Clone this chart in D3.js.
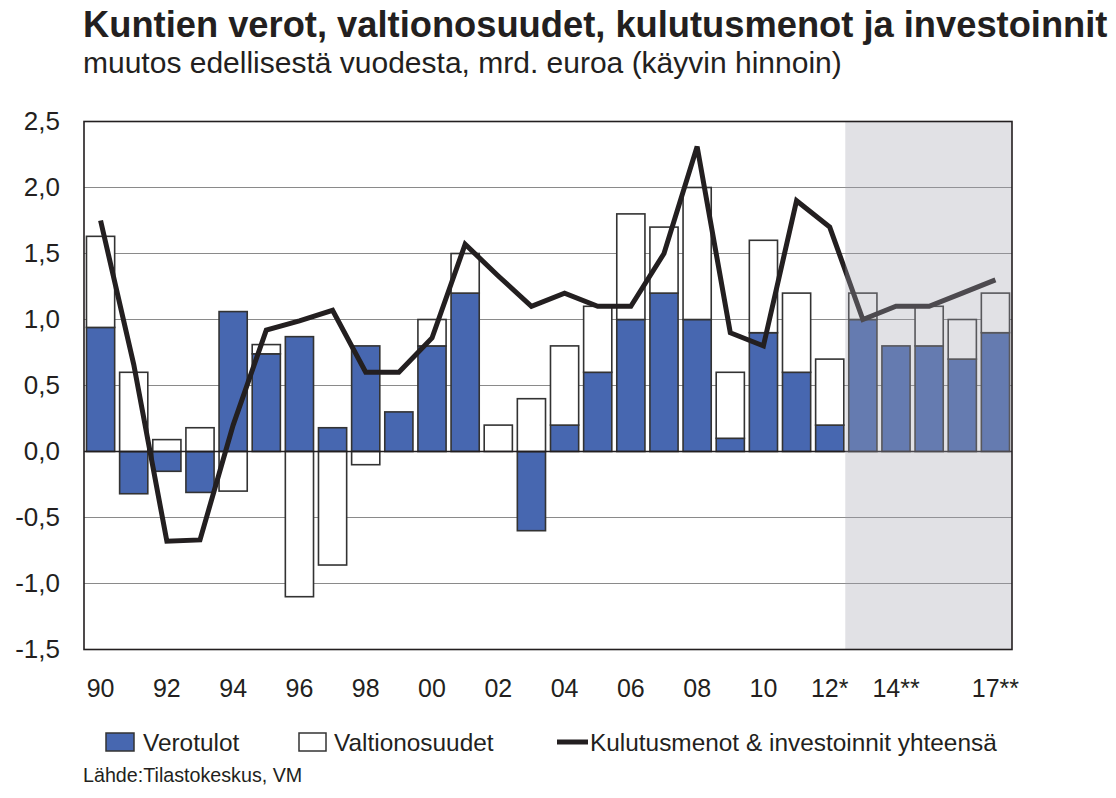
<!DOCTYPE html>
<html>
<head>
<meta charset="utf-8">
<script src="https://cdn.jsdelivr.net/npm/d3@7"></script>
<style>
  html, body { margin: 0; padding: 0; background: #ffffff; }
  svg { display: block; font-family: "Liberation Sans", Arial, sans-serif; }
</style>
</head>
<body>
<svg id="chart" width="1116" height="798"></svg>
<script>
// ---- data ----
const years = [1990,1991,1992,1993,1994,1995,1996,1997,1998,1999,2000,2001,2002,2003,2004,2005,2006,2007,2008,2009,2010,2011,2012,2013,2014,2015,2016,2017];
const verotulot = [0.94,-0.32,-0.15,-0.31,1.06,0.74,0.87,0.18,0.80,0.30,0.80,1.20,0.00,-0.60,0.20,0.60,1.00,1.20,1.00,0.10,0.90,0.60,0.20,1.00,0.80,0.80,0.70,0.90];
const valtionosuudet = [0.69,0.60,0.09,0.18,-0.30,0.07,-1.10,-0.86,-0.10,0.00,0.20,0.30,0.20,0.40,0.60,0.50,0.80,0.50,1.00,0.50,0.70,0.60,0.50,0.20,0.00,0.30,0.30,0.30];
const kulutusmenot = [1.75,0.66,-0.68,-0.67,0.20,0.92,0.99,1.07,0.60,0.60,0.86,1.57,1.33,1.10,1.20,1.10,1.10,1.50,2.31,0.90,0.80,1.90,1.70,1.00,1.10,1.10,1.20,1.30];
const forecastStart = 2013;
const xTickYears = [1990,1992,1994,1996,1998,2000,2002,2004,2006,2008,2010,2012,2014,2017];
const xTickLabels = ["90","92","94","96","98","00","02","04","06","08","10","12*","14**","17**"];
const yTicks = [2.5,2.0,1.5,1.0,0.5,0.0,-0.5,-1.0,-1.5];
const seriesNames = ["Verotulot","Valtionosuudet","Kulutusmenot & investoinnit yhteensä"];
const titleText = "Kuntien verot, valtionosuudet, kulutusmenot ja investoinnit";
const subtitleText = "muutos edellisestä vuodesta, mrd. euroa (käyvin hinnoin)";
const sourceText = "Lähde:Tilastokeskus, VM";

// ---- layout ----
const svg = d3.select("#chart");
const plot = {left: 84, right: 1012, top: 121.5, bottom: 649.5};
const colBlue = "#4767b0";
const colDark = "#231f20";

const x = d3.scaleBand().domain(years).range([plot.left, plot.right]).paddingInner(0.15).paddingOuter(0.075);
const y = d3.scaleLinear().domain([-1.5, 2.5]).range([plot.bottom, plot.top]);

// title
svg.append("text").attr("x", 83).attr("y", 37).attr("font-size", 36.3).attr("font-weight", "bold")
  .attr("fill", colDark).text(titleText);
svg.append("text").attr("x", 83).attr("y", 73).attr("font-size", 30).attr("fill", colDark).text(subtitleText);

// gridlines
svg.append("g").selectAll("line").data(yTicks.filter(v => v !== 0 && v !== 2.5 && v !== -1.5)).join("line")
  .attr("x1", plot.left).attr("x2", plot.right)
  .attr("y1", d => y(d)).attr("y2", d => y(d))
  .attr("stroke", "#8a8a8a").attr("stroke-width", 1.2);

// stacked bars
const table = years.map((yr, i) => ({year: yr, Verotulot: verotulot[i], Valtionosuudet: valtionosuudet[i]}));
const stack = d3.stack().keys(["Verotulot","Valtionosuudet"]).offset(d3.stackOffsetDiverging);
const stacked = stack(table);
const fills = {Verotulot: colBlue, Valtionosuudet: "#ffffff"};

const barsG = svg.append("g");
stacked.forEach(s => {
  barsG.append("g").selectAll("rect").data(s.filter(d => d[1] !== d[0])).join("rect")
    .attr("x", d => x(d.data.year))
    .attr("width", x.bandwidth())
    .attr("y", d => y(Math.max(d[0], d[1])))
    .attr("height", d => Math.abs(y(d[0]) - y(d[1])))
    .attr("fill", fills[s.key])
    .attr("stroke", "#333333")
    .attr("stroke-width", 1.6);
});

// zero line
svg.append("line").attr("x1", plot.left).attr("x2", plot.right)
  .attr("y1", y(0)).attr("y2", y(0)).attr("stroke", colDark).attr("stroke-width", 1.6);

// line series
const line = d3.line().x((d, i) => x(years[i]) + x.bandwidth() / 2).y(d => y(d));
svg.append("path").datum(kulutusmenot).attr("d", line)
  .attr("fill", "none").attr("stroke", colDark).attr("stroke-width", 5).attr("stroke-linejoin", "miter");

// forecast shading overlay
const shadeX = x(forecastStart) - x.step() * x.paddingInner() / 2 - 1;
svg.append("rect").attr("x", shadeX).attr("y", plot.top)
  .attr("width", plot.right - shadeX).attr("height", plot.bottom - plot.top)
  .attr("fill", "rgb(163,165,175)").attr("fill-opacity", 0.33);

// plot frame
svg.append("rect").attr("x", plot.left).attr("y", plot.top)
  .attr("width", plot.right - plot.left).attr("height", plot.bottom - plot.top)
  .attr("fill", "none").attr("stroke", colDark).attr("stroke-width", 1.6);

// y axis
const yAxis = d3.axisLeft(y).tickValues(yTicks).tickSize(0).tickPadding(24)
  .tickFormat(d => d3.format(".1f")(d).replace(".", ",").replace("−", "-"));
const yG = svg.append("g").attr("transform", `translate(${plot.left},0)`).call(yAxis);
yG.select(".domain").remove();
yG.selectAll("text").attr("font-size", 26).attr("fill", colDark).attr("font-family", "'Liberation Sans', Arial, sans-serif");

// x axis
const xAxis = d3.axisBottom(x).tickValues(xTickYears).tickSize(0).tickPadding(29.5)
  .tickFormat(d => xTickLabels[xTickYears.indexOf(d)]);
const xG = svg.append("g").attr("transform", `translate(0,${plot.bottom})`).call(xAxis);
xG.select(".domain").remove();
xG.selectAll("text").attr("font-size", 25).attr("fill", colDark).attr("font-family", "'Liberation Sans', Arial, sans-serif");

// legend
const lg = svg.append("g");
const legY = 742;
lg.append("rect").attr("x", 106).attr("y", legY - 9).attr("width", 28).attr("height", 18)
  .attr("fill", colBlue).attr("stroke", "#333").attr("stroke-width", 1.5);
lg.append("text").attr("x", 143).attr("y", legY).attr("dy", "0.35em").attr("font-size", 24.4).attr("fill", colDark).text(seriesNames[0]);
lg.append("rect").attr("x", 299).attr("y", legY - 9).attr("width", 27).attr("height", 18)
  .attr("fill", "#fff").attr("stroke", "#333").attr("stroke-width", 1.5);
lg.append("text").attr("x", 334).attr("y", legY).attr("dy", "0.35em").attr("font-size", 24.4).attr("fill", colDark).text(seriesNames[1]);
lg.append("line").attr("x1", 557).attr("x2", 588).attr("y1", legY).attr("y2", legY)
  .attr("stroke", colDark).attr("stroke-width", 5);
lg.append("text").attr("x", 590).attr("y", legY).attr("dy", "0.35em").attr("font-size", 24.4).attr("fill", colDark).text(seriesNames[2]);

// source
svg.append("text").attr("x", 83).attr("y", 782).attr("font-size", 19.7).attr("fill", colDark).text(sourceText);
</script>
</body>
</html>
